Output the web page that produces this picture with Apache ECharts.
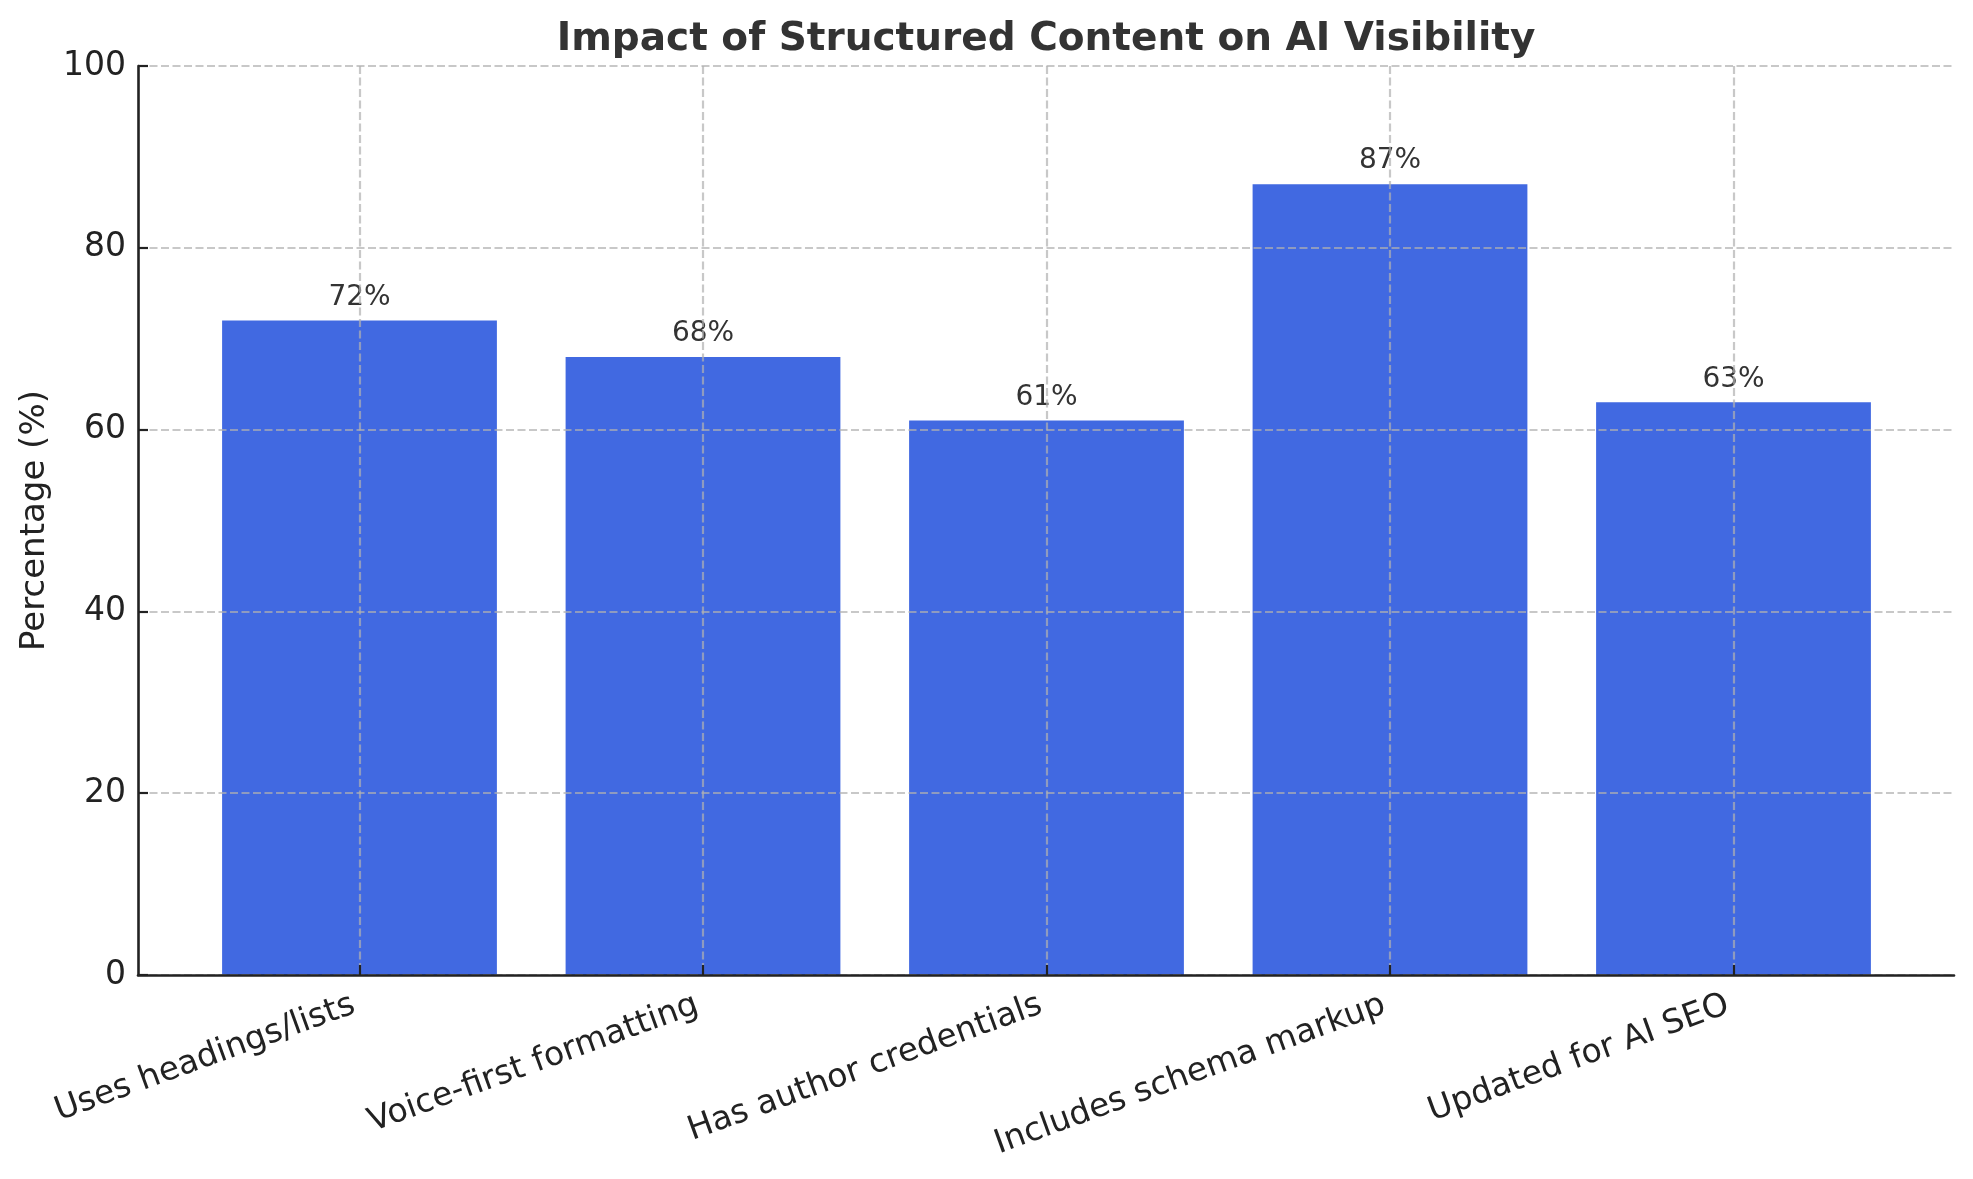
<!DOCTYPE html>
<html>
<head>
    <meta charset="utf-8">
    <title>Impact of Structured Content on AI Visibility</title>
    <script src="https://cdn.jsdelivr.net/npm/echarts@6/dist/echarts.min.js"></script>
    <style>
        html, body { margin: 0; padding: 0; background: #fff; }
        #chart { width: 1973px; height: 1179px; }
    </style>
</head>
<body>
    <div id="chart"></div>
    <script>
    // data
    var categories = ['Uses headings/lists', 'Voice-first formatting', 'Has author credentials', 'Includes schema markup', 'Updated for AI SEO'];
    var values = [72, 68, 61, 87, 63];
    var yMin = 0, yMax = 100, yStep = 20;

    var font = 'DejaVu Sans';
    var gridColor = 'rgba(176,176,176,0.7)';
    var inkColor = '#222';

    var myChart = echarts.init(document.getElementById('chart'));

    var option = {
        animation: false,
        backgroundColor: '#fff',
        title: {
            text: 'Impact of Structured Content on AI Visibility',
            left: 1041,
            top: 15,
            textAlign: 'center',
            textStyle: { fontFamily: font, fontSize: 39, fontWeight: 'bold', color: '#333' }
        },
        grid: [
            // frame: spines, y ticks and horizontal grid
            { left: 138, top: 66, width: 1816, height: 909 },
            // categories: first and last centers at the grid edges
            { left: 359.5, top: 66, width: 1374, height: 909 }
        ],
        xAxis: [{
            gridIndex: 0,
            type: 'value',
            min: 0,
            max: 1,
            z: 4,
            axisLine: { show: true, onZero: false, lineStyle: { color: inkColor, width: 2.6 } },
            axisTick: { show: false },
            axisLabel: { show: false },
            splitLine: { show: false }
        }, {
            gridIndex: 1,
            type: 'category',
            data: categories,
            boundaryGap: false,
            z: 3,
            axisLine: { show: false },
            axisTick: { show: true, inside: true, length: 10, lineStyle: { color: inkColor, width: 2.2 } },
            axisLabel: {
                rotate: 20,
                margin: 27,
                interval: 0,
                padding: [0, 6, 0, 0],
                fontFamily: font,
                fontSize: 33,
                color: inkColor
            },
            splitLine: { show: true, lineStyle: { color: gridColor, width: 2.2, type: [8, 3.5] } }
        }],
        yAxis: [{
            gridIndex: 0,
            type: 'value',
            min: yMin,
            max: yMax,
            interval: yStep,
            z: 3,
            name: 'Percentage (%)',
            nameLocation: 'middle',
            nameGap: 86,
            nameTextStyle: { fontFamily: font, fontSize: 34, color: inkColor },
            axisLine: { show: true, lineStyle: { color: inkColor, width: 2.6 } },
            axisTick: { show: true, inside: true, length: 10, lineStyle: { color: inkColor, width: 2.2 } },
            axisLabel: { margin: 12, fontFamily: font, fontSize: 33, color: inkColor },
            splitLine: { show: true, lineStyle: { color: gridColor, width: 2.2, type: [8, 3.5] } }
        }, {
            gridIndex: 1,
            type: 'value',
            min: yMin,
            max: yMax,
            show: false,
            splitLine: { show: false }
        }],
        series: [{
            type: 'bar',
            xAxisIndex: 1,
            yAxisIndex: 1,
            data: values,
            barWidth: '80%',
            clip: false,
            itemStyle: { color: '#4169E1' },
            label: {
                show: true,
                position: 'top',
                distance: 9,
                formatter: '{c}%',
                fontFamily: font,
                fontSize: 28,
                color: '#333'
            }
        }]
    };

    myChart.setOption(option);
    addEventListener('resize', myChart.resize);
    </script>
</body>
</html>
